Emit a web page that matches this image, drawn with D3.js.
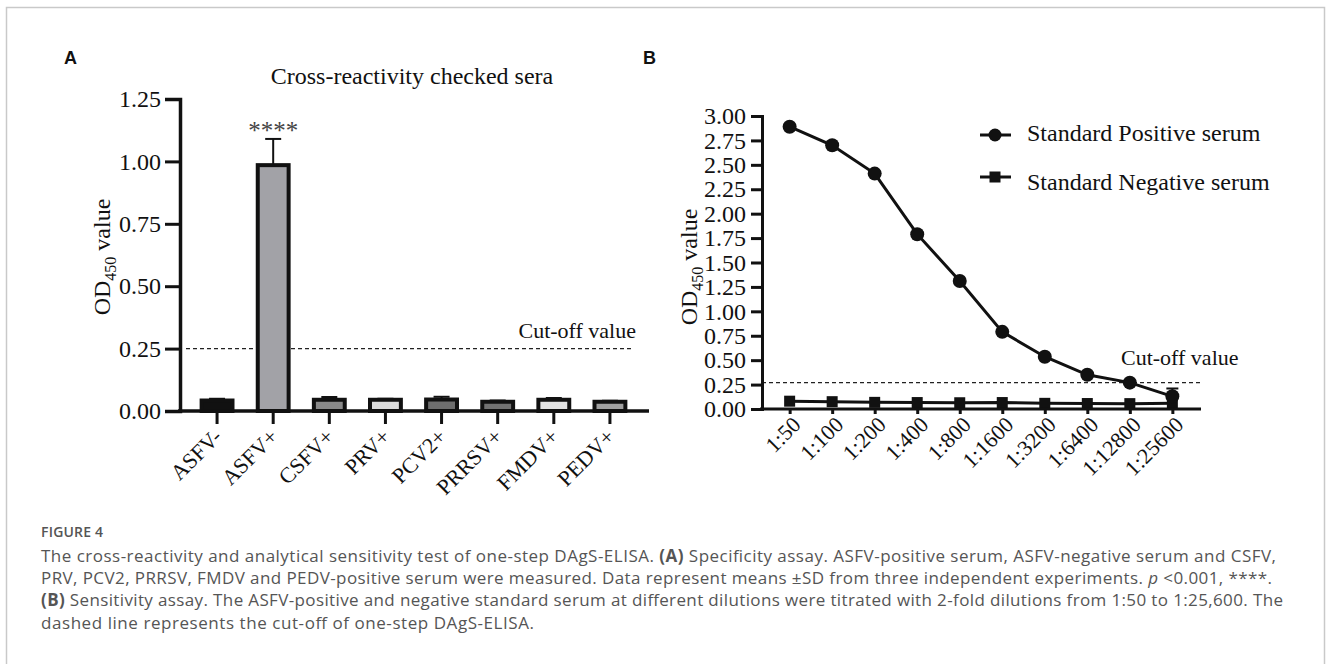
<!DOCTYPE html>
<html>
<head>
<meta charset="utf-8">
<script src="https://cdn.jsdelivr.net/npm/d3@7"></script>
<style>
  body { margin: 0; background: #fff; }
  svg text { font-family: "Liberation Serif", "Times New Roman", serif; fill: #111; }
  .cap text, text.cap { font-family: "Open Sans", sans-serif; fill: #555; }
</style>
</head>
<body>
<div id="chart"></div>
<script>
// Panel A - cross-reactivity
const catsA = ["ASFV-", "ASFV+", "CSFV+", "PRV+", "PCV2+", "PRRSV+", "FMDV+", "PEDV+"];
const meanA = [0.042, 0.985, 0.045, 0.045, 0.046, 0.037, 0.045, 0.037];
const sdA = [0.007, 0.105, 0.011, 0.004, 0.011, 0.005, 0.007, 0.004];
const ticksA = [0, 0.25, 0.5, 0.75, 1.0, 1.25];
const cutoffA = 0.25;

// Panel B - sensitivity
const dilutions = ["1:50", "1:100", "1:200", "1:400", "1:800", "1:1600", "1:3200", "1:6400", "1:12800", "1:25600"];
const posMean = [2.89, 2.70, 2.41, 1.79, 1.31, 0.79, 0.535, 0.35, 0.27, 0.13];
const posSd = [0.02, 0.02, 0.02, 0.02, 0.02, 0.02, 0.02, 0.02, 0.02, 0.08];
const negMean = [0.08, 0.075, 0.068, 0.066, 0.064, 0.066, 0.058, 0.056, 0.055, 0.06];
const ticksB = [0, 0.25, 0.5, 0.75, 1.0, 1.25, 1.5, 1.75, 2.0, 2.25, 2.5, 2.75, 3.0];
const cutoffB = 0.27;

const barFill = {
  "ASFV-": "#111111", "ASFV+": "#a2a2a7", "CSFV+": "#8a8a8a", "PRV+": "#dcdcdc",
  "PCV2+": "#6e6e6e", "PRRSV+": "#727272", "FMDV+": "#e2e2e2", "PEDV+": "#a0a0a0"
};

const svg = d3.select("#chart").append("svg")
  .attr("width", 1330).attr("height", 664);

// frame
svg.append("rect").attr("x", 6.5).attr("y", 7.5).attr("width", 1318).attr("height", 700)
  .attr("fill", "none").attr("stroke", "#c9c9c9").attr("stroke-width", 1.5);

// ---------- Panel A ----------
const yA = d3.scaleLinear().domain([0, 1.25]).range([411, 99]);
const xA = d3.scaleBand().domain(catsA).range([189, 638]).paddingInner(0.45).paddingOuter(0.225);
const dataA = catsA.map((c, i) => ({ c, m: meanA[i], s: sdA[i] }));

svg.append("text").attr("x", 64).attr("y", 64)
  .style("font-family", "Liberation Sans, Arial, sans-serif").style("font-weight", "bold")
  .style("font-size", "18px").text("A");

svg.append("text").attr("x", 412).attr("y", 84).attr("text-anchor", "middle")
  .style("font-size", "24px").text("Cross-reactivity checked sera");

// cut-off
svg.append("line").attr("x1", 186).attr("x2", 634)
  .attr("y1", yA(cutoffA)).attr("y2", yA(cutoffA))
  .attr("stroke", "#222").attr("stroke-width", 1.2).attr("stroke-dasharray", "4,3");
svg.append("text").attr("x", 636).attr("y", 338).attr("text-anchor", "end")
  .style("font-size", "22px").text("Cut-off value");

// error bars
const errA = svg.append("g").attr("stroke", "#111").attr("stroke-width", 2);
errA.selectAll("line.v").data(dataA).join("line").attr("class", "v")
  .attr("x1", d => xA(d.c) + xA.bandwidth() / 2).attr("x2", d => xA(d.c) + xA.bandwidth() / 2)
  .attr("y1", d => yA(d.m)).attr("y2", d => yA(d.m + d.s));
errA.selectAll("line.h").data(dataA).join("line").attr("class", "h")
  .attr("x1", d => xA(d.c) + xA.bandwidth() / 2 - 8).attr("x2", d => xA(d.c) + xA.bandwidth() / 2 + 8)
  .attr("y1", d => yA(d.m + d.s)).attr("y2", d => yA(d.m + d.s));

// bars
svg.selectAll("rect.bar").data(dataA).join("rect").attr("class", "bar")
  .attr("x", d => xA(d.c)).attr("width", xA.bandwidth())
  .attr("y", d => yA(d.m)).attr("height", d => yA(0) - yA(d.m))
  .attr("fill", d => barFill[d.c]).attr("stroke", "#111").attr("stroke-width", 4);

svg.append("text").attr("x", xA("ASFV+") + xA.bandwidth() / 2).attr("y", 139)
  .attr("text-anchor", "middle").style("font-size", "25px").style("fill", "#444").text("****");

// axes A
const axYA = svg.append("g").attr("transform", "translate(180,0)")
  .call(d3.axisLeft(yA).tickValues(ticksA).tickFormat(d3.format(".2f")).tickSize(15).tickPadding(4));
const axXA = svg.append("g").attr("transform", `translate(0,${yA(0)})`)
  .call(d3.axisBottom(xA).tickSize(13).tickSizeOuter(0));
axXA.select(".domain").remove();
axXA.append("line").attr("x1", 178).attr("x2", 649).attr("y1", 0).attr("y2", 0)
  .attr("stroke", "#111").attr("stroke-width", 3.5);
axXA.selectAll(".tick text")
  .attr("x", 0).attr("y", 0).attr("dy", 0)
  .attr("transform", "translate(6,27) rotate(-45)")
  .style("text-anchor", "end");

svg.append("text")
  .attr("transform", "translate(110,257) rotate(-90)")
  .attr("text-anchor", "middle").style("font-size", "24px")
  .call(t => {
    t.append("tspan").text("OD");
    t.append("tspan").attr("dy", 6).style("font-size", "16px").text("450");
    t.append("tspan").attr("dy", -6).text(" value");
  });

// ---------- Panel B ----------
const yB = d3.scaleLinear().domain([0, 3]).range([409, 116]);
const xB = d3.scalePoint().domain(dilutions).range([762, 1200]).padding(0.65);

svg.append("text").attr("x", 643).attr("y", 64)
  .style("font-family", "Liberation Sans, Arial, sans-serif").style("font-weight", "bold")
  .style("font-size", "18px").text("B");

svg.append("line").attr("x1", 762).attr("x2", 1201)
  .attr("y1", yB(cutoffB)).attr("y2", yB(cutoffB))
  .attr("stroke", "#222").attr("stroke-width", 1.2).attr("stroke-dasharray", "4,3");
svg.append("text").attr("x", 1121).attr("y", 365)
  .style("font-size", "22px").text("Cut-off value");

const lineB = d3.line().x(d => xB(d.k)).y(d => yB(d.v));
const pos = dilutions.map((k, i) => ({ k, v: posMean[i], s: posSd[i] }));
const neg = dilutions.map((k, i) => ({ k, v: negMean[i] }));

svg.append("path").datum(neg).attr("d", lineB)
  .attr("fill", "none").attr("stroke", "#111").attr("stroke-width", 3);
svg.selectAll("rect.sq").data(neg).join("rect").attr("class", "sq")
  .attr("x", d => xB(d.k) - 5.5).attr("y", d => yB(d.v) - 5.5)
  .attr("width", 11).attr("height", 11).attr("fill", "#111");

const errB = svg.append("g").attr("stroke", "#111").attr("stroke-width", 2);
errB.selectAll("line.v").data(pos).join("line").attr("class", "v")
  .attr("x1", d => xB(d.k)).attr("x2", d => xB(d.k))
  .attr("y1", d => yB(d.v)).attr("y2", d => yB(d.v + d.s));
errB.selectAll("line.h").data(pos).join("line").attr("class", "h")
  .attr("x1", d => xB(d.k) - 6).attr("x2", d => xB(d.k) + 6)
  .attr("y1", d => yB(d.v + d.s)).attr("y2", d => yB(d.v + d.s));

svg.append("path").datum(pos).attr("d", lineB)
  .attr("fill", "none").attr("stroke", "#111").attr("stroke-width", 3);
svg.selectAll("circle.pt").data(pos).join("circle").attr("class", "pt")
  .attr("cx", d => xB(d.k)).attr("cy", d => yB(d.v)).attr("r", 7).attr("fill", "#111");

const axYB = svg.append("g").attr("transform", "translate(762,0)")
  .call(d3.axisLeft(yB).tickValues(ticksB).tickFormat(d3.format(".2f")).tickSize(11).tickPadding(5));
const axXB = svg.append("g").attr("transform", `translate(0,${yB(0)})`)
  .call(d3.axisBottom(xB).tickSize(5).tickSizeOuter(0));
axXB.select(".domain").remove();
axXB.append("line").attr("x1", 760).attr("x2", 1201).attr("y1", 0).attr("y2", 0)
  .attr("stroke", "#111").attr("stroke-width", 3);
axXB.selectAll(".tick text")
  .attr("x", 0).attr("y", 0).attr("dy", 0)
  .attr("transform", "translate(12,17) rotate(-45)")
  .style("text-anchor", "end");

svg.append("text")
  .attr("transform", "translate(697,267) rotate(-90)")
  .attr("text-anchor", "middle").style("font-size", "24px")
  .call(t => {
    t.append("tspan").text("OD");
    t.append("tspan").attr("dy", 6).style("font-size", "16px").text("450");
    t.append("tspan").attr("dy", -6).text(" value");
  });

// legend
const lg = svg.append("g");
lg.append("line").attr("x1", 980).attr("x2", 1011).attr("y1", 135).attr("y2", 135)
  .attr("stroke", "#111").attr("stroke-width", 3);
lg.append("circle").attr("cx", 995).attr("cy", 135).attr("r", 6.5).attr("fill", "#111");
lg.append("text").attr("x", 1027).attr("y", 141).style("font-size", "24px").text("Standard Positive serum");
lg.append("line").attr("x1", 980).attr("x2", 1011).attr("y1", 177).attr("y2", 177)
  .attr("stroke", "#111").attr("stroke-width", 3);
lg.append("rect").attr("x", 989.5).attr("y", 171.5).attr("width", 11).attr("height", 11).attr("fill", "#111");
lg.append("text").attr("x", 1027).attr("y", 190).style("font-size", "24px").text("Standard Negative serum");

// style axes
svg.selectAll(".tick line").attr("stroke", "#111").attr("stroke-width", 3);
axYA.select(".domain").attr("stroke", "#111").attr("stroke-width", 3.5);
axYB.select(".domain").attr("stroke", "#111").attr("stroke-width", 3);
axYA.selectAll("text").style("font-size", "24px").style("font-family", "Liberation Serif, serif");
axYB.selectAll("text").style("font-size", "24px").style("font-family", "Liberation Serif, serif");
axXA.selectAll("text").style("font-size", "22px").style("font-family", "Liberation Serif, serif");
axXB.selectAll("text").style("font-size", "22px").style("font-family", "Liberation Serif, serif");
svg.selectAll(".tick text").attr("fill", "#111");

// ---------- caption ----------
const cap = svg.append("g").attr("class", "cap").style("font-size", "17px");
cap.append("text").attr("x", 41).attr("y", 537).style("font-size", "14px")
  .style("font-weight", "600").style("letter-spacing", "0.2px").text("FIGURE 4");

const capLines = [
  [["The cross-reactivity and analytical sensitivity test of one-step DAgS-ELISA. "], ["(A)", "b"], [" Specificity assay. ASFV-positive serum, ASFV-negative serum and CSFV,"]],
  [["PRV, PCV2, PRRSV, FMDV and PEDV-positive serum were measured. Data represent means \u00B1SD from three independent experiments. "], ["p", "i"], [" <0.001, ****."]],
  [["(B)", "b"], [" Sensitivity assay. The ASFV-positive and negative standard serum at different dilutions were titrated with 2-fold dilutions from 1:50 to 1:25,600. The"]],
  [["dashed line represents the cut-off of one-step DAgS-ELISA."]]
];
const capWidths = [1235, 1231, 1242, 493];
capLines.forEach((parts, i) => {
  const t = cap.append("text").attr("x", 41).attr("y", 562 + i * 22.2)
    .attr("textLength", capWidths[i]).attr("lengthAdjust", "spacing");
  parts.forEach(p => {
    const s = t.append("tspan").text(p[0]);
    if (p[1] === "b") s.style("font-weight", "bold");
    if (p[1] === "i") s.style("font-style", "italic");
  });
});
</script>
</body>
</html>
